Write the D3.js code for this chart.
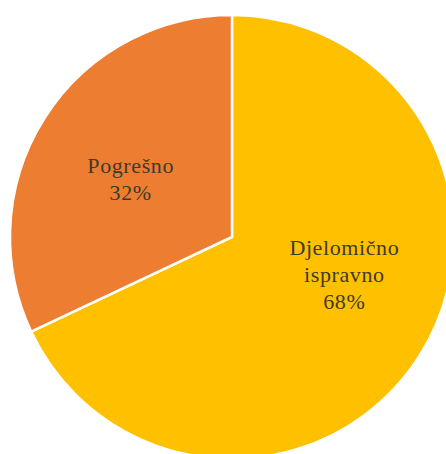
<!DOCTYPE html>
<html>
<head>
<meta charset="utf-8">
<script src="https://cdn.jsdelivr.net/npm/d3@7/dist/d3.min.js"></script>
<style>
  html, body { margin: 0; padding: 0; background: #ffffff; }
  svg { display: block; }
  text.lbl { font-family: "Liberation Serif", "DejaVu Serif", serif; }
</style>
</head>
<body>
<script>
// Answer categories and their shares (percent)
const categories = ["Djelomično ispravno", "Pogrešno"];
const labelLines = [["Djelomično", "ispravno"], ["Pogrešno"]];
const values = [68, 32];
const colors = ["#FFC000", "#ED7D31"];

const width = 446, height = 454;
const cx = 232, cy = 237, radius = 222;

const svg = d3.select("body").append("svg")
  .attr("width", width)
  .attr("height", height);

const g = svg.append("g").attr("transform", `translate(${cx},${cy})`);

const pie = d3.pie().sort(null).value(d => d.value);
const arcs = pie(categories.map((c, i) => ({ name: c, value: values[i], lines: labelLines[i], color: colors[i] })));

const arc = d3.arc().innerRadius(0).outerRadius(radius);

g.selectAll("path.slice")
  .data(arcs)
  .enter().append("path")
  .attr("class", "slice")
  .attr("d", arc)
  .attr("fill", d => d.data.color)
  .attr("stroke", "#ffffff")
  .attr("stroke-width", 2.5)
  .attr("stroke-linejoin", "miter");

// Label placement: centroid of a ring, with a small per-slice shift
const labelArc = d3.arc().innerRadius(radius * 0.53).outerRadius(radius * 0.53);
const labelShift = [[13, -26], [-2, 5]];
const lineH = 27;

g.selectAll("text.lbl")
  .data(arcs)
  .enter().append("text")
  .attr("class", "lbl")
  .attr("font-size", 22)
  .attr("fill", "#3f3a2e")
  .attr("text-anchor", "middle")
  .attr("letter-spacing", 0.6)
  .each(function(d, i) {
    const [x, y] = labelArc.centroid(d);
    const lines = d.data.lines.concat([d.data.value + "%"]);
    const x0 = x + labelShift[i][0];
    const y0 = y + labelShift[i][1] - (lines.length - 1) * lineH / 2;
    const t = d3.select(this);
    lines.forEach((ln, k) => {
      t.append("tspan")
        .attr("x", x0)
        .attr("y", y0 + k * lineH)
        .attr("dy", "0.35em")
        .text(ln);
    });
  });
</script>
</body>
</html>
